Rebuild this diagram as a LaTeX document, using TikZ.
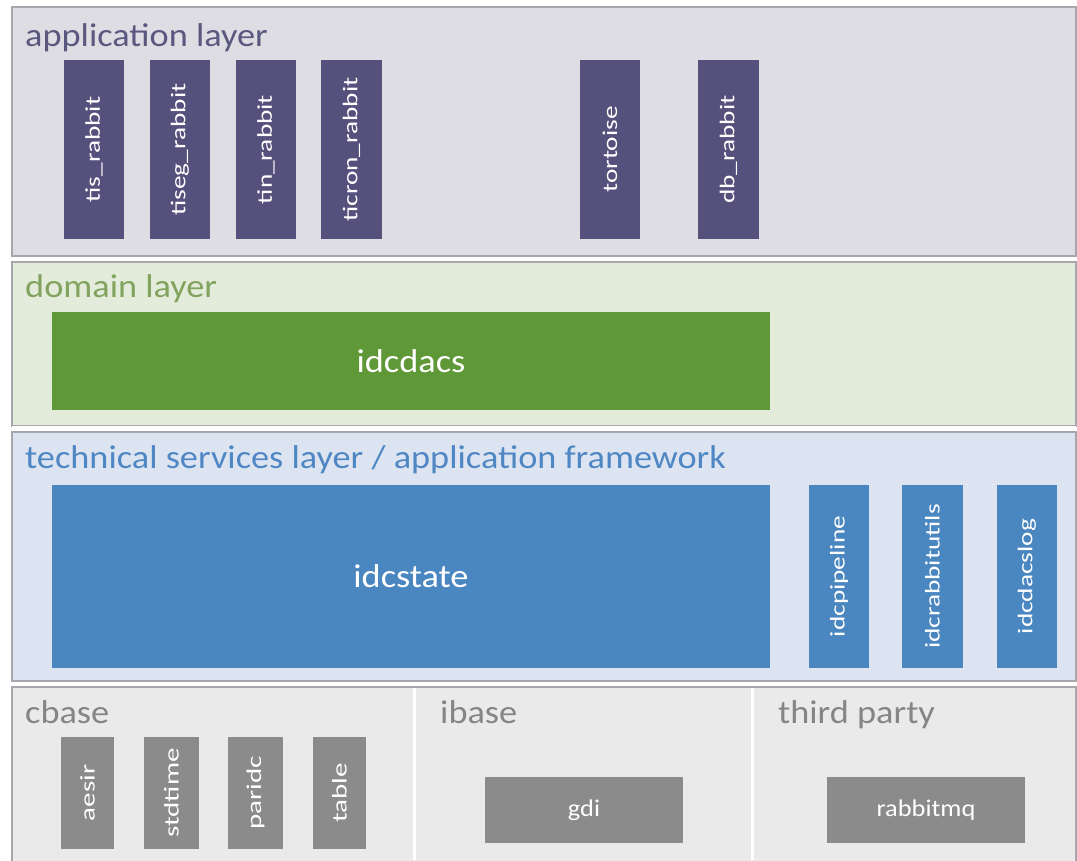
\documentclass[tikz,border=0pt]{standalone}
\usepackage{fontspec}
\setmainfont{Carlito}
\definecolor{appfill}{HTML}{DEDDE3}
\definecolor{apptext}{HTML}{5B5880}
\definecolor{appbox}{HTML}{55507C}
\definecolor{domfill}{HTML}{E3EBDB}
\definecolor{domtext}{HTML}{82A35E}
\definecolor{dombox}{HTML}{5F9837}
\definecolor{techfill}{HTML}{DDE4F1}
\definecolor{techtext}{HTML}{4F87C4}
\definecolor{techbox}{HTML}{4A86C0}
\definecolor{basefill}{HTML}{EAEAEA}
\definecolor{basetext}{HTML}{858585}
\definecolor{basebox}{HTML}{8B8B8B}
\definecolor{frame}{HTML}{A6A6AC}
% text drawn slightly wider than the font's own proportions
\newcommand\widetxt[2]{\scalebox{#1}[1]{#2}}
\tikzset{
  layer/.style={draw=frame, line width=1.6pt},
  layertitle/.style={anchor=base west, inner sep=0pt, font=\fontsize{33}{35}\selectfont},
  module/.style={rectangle, inner sep=0pt, text=white},
  vmodule/.style={module, rotate=90, font=\fontsize{21}{23}\selectfont},
  bigmodule/.style={module, font=\fontsize{33}{35}\selectfont},
  flatmodule/.style={module, font=\fontsize{24}{26}\selectfont},
}
\begin{document}
\begin{tikzpicture}[x=1pt, y=-1pt]
\useasboundingbox (0,0) rectangle (1077,860);
\fill[white] (0,0) rectangle (1077,860);

% application layer
\draw[layer, fill=appfill] (12,7) rectangle (1076,256);
\node[layertitle, text=apptext] (apptitle) at (25,46) {\widetxt{1.1}{application layer}};
\node[vmodule, fill=appbox, minimum width=179, minimum height=60] (tis) at (94,149.5) {\widetxt{1.3}{tis\_rabbit}};
\node[vmodule, fill=appbox, minimum width=179, minimum height=60] (tiseg) at (180,149.5) {\widetxt{1.3}{tiseg\_rabbit}};
\node[vmodule, fill=appbox, minimum width=179, minimum height=60] (tin) at (266,149.5) {\widetxt{1.3}{tin\_rabbit}};
\node[vmodule, fill=appbox, minimum width=179, minimum height=61] (ticron) at (351.5,149.5) {\widetxt{1.3}{ticron\_rabbit}};
\node[vmodule, fill=appbox, minimum width=179, minimum height=60] (tortoise) at (610,149.5) {\widetxt{1.3}{tortoise}};
\node[vmodule, fill=appbox, minimum width=179, minimum height=61] (db) at (728.5,149.5) {\widetxt{1.3}{db\_rabbit}};

% domain layer
\draw[layer, fill=domfill] (12,262) rectangle (1076,426);
\node[layertitle, text=domtext] (domtitle) at (25,297) {\widetxt{1.1}{domain layer}};
\node[bigmodule, fill=dombox, minimum width=718, minimum height=98] (idcdacs) at (411,361) {\widetxt{1.1}{idcdacs}};

% technical services layer
\fill[white] (12,426) rectangle (1076,432);
\draw[layer, fill=techfill] (12,432) rectangle (1076,681);
\node[layertitle, text=techtext] (techtitle) at (25,468) {\widetxt{1.1}{technical services layer / application framework}};
\node[bigmodule, fill=techbox, minimum width=718, minimum height=183] (idcstate) at (411,576.5) {\widetxt{1.1}{idcstate}};
\node[vmodule, fill=techbox, minimum width=183, minimum height=60] (pipe) at (839,576.5) {\widetxt{1.3}{idcpipeline}};
\node[vmodule, fill=techbox, minimum width=183, minimum height=61] (rutils) at (932.5,576.5) {\widetxt{1.3}{idcrabbitutils}};
\node[vmodule, fill=techbox, minimum width=183, minimum height=60] (dlog) at (1027,576.5) {\widetxt{1.3}{idcdacslog}};

% base libraries
\draw[layer, fill=basefill] (12,687) rectangle (1076,862);
\draw[white, line width=3pt] (414,688) -- (414,860);
\draw[white, line width=3pt] (752,688) -- (752,860);
\node[layertitle, text=basetext] (cbase) at (25,723) {\widetxt{1.1}{cbase}};
\node[layertitle, text=basetext] (ibase) at (440,723) {\widetxt{1.1}{ibase}};
\node[layertitle, text=basetext] (third) at (778,723) {\widetxt{1.1}{third party}};
\node[vmodule, fill=basebox, minimum width=112, minimum height=53] (aesir) at (87.5,793) {\widetxt{1.38}{aesir}};
\node[vmodule, fill=basebox, minimum width=112, minimum height=55] (stdtime) at (171.5,793) {\widetxt{1.38}{stdtime}};
\node[vmodule, fill=basebox, minimum width=112, minimum height=55] (paridc) at (255.5,793) {\widetxt{1.38}{paridc}};
\node[vmodule, fill=basebox, minimum width=112, minimum height=53] (table) at (339.5,793) {\widetxt{1.38}{table}};
\node[flatmodule, fill=basebox, minimum width=198, minimum height=66] (gdi) at (584,810) {\widetxt{1.1}{gdi}};
\node[flatmodule, fill=basebox, minimum width=198, minimum height=66] (rabbitmq) at (926,810) {\widetxt{1.1}{rabbitmq}};
\end{tikzpicture}
\end{document}
